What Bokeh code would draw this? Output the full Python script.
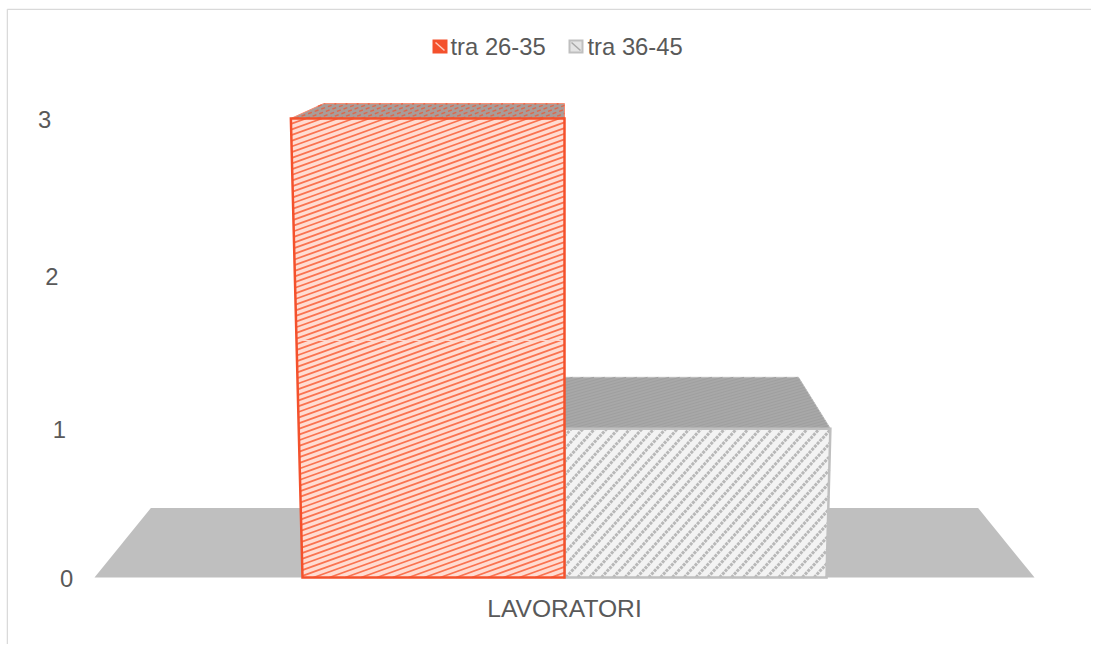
import numpy as np
from bokeh.plotting import figure
from bokeh.models import Range1d
from bokeh.core.properties import value
from bokeh.embed import file_html
from bokeh.resources import INLINE

category = ["LAVORATORI"]
series_names = ["tra 26-35", "tra 36-45"]
series_values = [3, 1]
tick_values = [0, 1, 2, 3]

RED, RED_FILL, GREY, GREY_FILL = "#f4512c", "#ffdcd2", "#bfbfbf", "#f3f3f3"
TEXT = "#595959"
FONT = value("Liberation Sans")
FONT_SIZE = "23.8px"

# page-pixel frame of the figure
LEFT, TOP, W, H = 6, 8, 1085, 636
X_UNIT, Y_UNIT, CX, Y0 = 262.0, 153.0, 564.0, 577.0


def dx(px):
    return 1 + (px - CX) / X_UNIT


def dy(py):
    return (Y0 - py) / Y_UNIT


def project(s, v, depth=0.0):
    """Oblique-perspective position (page px) of bar-slot s, value v, depth 0..1."""
    spread = 1 + 0.0148 * v
    back = 1 - 0.12 * depth
    x = CX + (s - 1) * X_UNIT * spread * back
    y = Y0 - Y_UNIT * (v - 0.0135 * v * (3 - v)) - depth * (69.5 - 18.2 * v)
    return x, y


def box_faces(s0, s1, v):
    front = [project(s0, 0), project(s1, 0), project(s1, v), project(s0, v)]
    top = [project(s0, v), project(s1, v), project(s1, v, 1), project(s0, v, 1)]
    return front, top


def clip_family(poly, slope, spacing, phase=0.0):
    """Segments of lines y = slope*x + c (px) clipped to a convex polygon (px)."""
    pts = np.array(poly)
    cs = pts[:, 1] - slope * pts[:, 0]
    xs_out, ys_out = [], []
    c = np.floor(cs.min() / spacing) * spacing + phase
    n = len(pts)
    while c <= cs.max():
        hits = []
        for i in range(n):
            a, b = pts[i], pts[(i + 1) % n]
            fa = a[1] - slope * a[0] - c
            fb = b[1] - slope * b[0] - c
            if fa == fb or fa * fb > 0:
                continue
            t = fa / (fa - fb)
            hits.append(a + t * (b - a))
        if len(hits) >= 2:
            hits = sorted(hits, key=lambda h: h[0])
            xs_out.append([dx(hits[0][0]), dx(hits[-1][0])])
            ys_out.append([dy(hits[0][1]), dy(hits[-1][1])])
        c += spacing
    return xs_out, ys_out


def fill(p, poly, color, line=None, lw=0):
    p.patch([dx(q[0]) for q in poly], [dy(q[1]) for q in poly], fill_color=color,
            line_color=line, line_width=lw, line_join="miter")


def outline(p, poly, color, lw):
    p.patch([dx(q[0]) for q in poly], [dy(q[1]) for q in poly], fill_color=None,
            line_color=color, line_width=lw, line_join="miter")


p = figure(width=W, height=H, output_backend="svg", toolbar_location=None,
           x_range=Range1d(dx(LEFT), dx(LEFT + W)), y_range=Range1d(dy(TOP + H), dy(TOP)),
           min_border=0, outline_line_color=None, background_fill_color="white",
           border_fill_color="white")
p.margin = (TOP, 0, 0, LEFT)
p.axis.visible = False
p.grid.visible = False

# chart border (top and left only are visible)
p.line([dx(LEFT + 0.7), dx(LEFT + W)], [dy(TOP + 0.7)] * 2, line_color="#d9d9d9", line_width=1.5)
p.line([dx(LEFT + 0.7)] * 2, [dy(TOP + 0.7), dy(TOP + H)], line_color="#d9d9d9", line_width=1.5)

# floor
floor = [project(1 - 1.794, 0), project(1 + 1.794, 0), project(1 + 1.794, 0, 1), project(1 - 1.794, 0, 1)]
fill(p, floor, GREY)

# second series (behind)
front, top = box_faces(1, 2, series_values[1])
fill(p, top, "#a8a8a8", GREY, 1)
xs, ys = clip_family(top, -0.28, 3.0)
p.multi_line(xs, ys, line_color="#9f9f9f", line_width=1)
fill(p, front, GREY_FILL)
xs, ys = clip_family(front, -1.1, 13.0, 3.0)
p.multi_line(xs, ys, line_color="#b8b8b8", line_width=3.0, line_dash="3 1")
outline(p, front, GREY, 2.5)

# first series (front)
front, top = box_faces(0, 1, series_values[0])
fill(p, top, "#a99c98", "#f98a70", 1)
xs, ys = clip_family(top, -0.36, 4.0)
p.multi_line(xs, ys, line_color=RED, line_width=1.4, line_alpha=0.7, line_dash="4 3")
fill(p, front, RED_FILL)
xs, ys = clip_family(front, -0.36, 5.7)
p.multi_line(xs, ys, line_color="#fa7350", line_width=1.8)
p.line([dx(project(0, 1.55)[0]), dx(project(1, 1.55)[0])], [dy(340), dy(340)],
       line_color="#ffd5ca", line_width=1)
outline(p, front, RED, 2.5)

# value labels follow the slanted left wall
tx = [project(-0.9, v)[0] for v in tick_values]
ty = [project(-0.9, v)[1] + 1 for v in tick_values]
p.text([dx(x) for x in tx], [dy(y) for y in ty], text=[str(v) for v in tick_values],
       text_font=FONT, text_font_size=FONT_SIZE, text_color=TEXT,
       text_align="center", text_baseline="middle")

# category label
p.text([dx(564)], [dy(608)], text=category, text_font=FONT, text_font_size="24.6px",
       text_color=TEXT, text_align="center", text_baseline="middle")

# legend
for name, sx, tx0, col, bg in [(series_names[0], 432, 450, RED, "#f4512c"),
                               (series_names[1], 568, 587, GREY, "#e4e4e4")]:
    sq = [(sx + 1, 40), (sx + 14, 40), (sx + 14, 52), (sx + 1, 52)]
    fill(p, sq, bg, col, 2)
    hatch = "#ffc9bb" if col == RED else "#a8a8a8"
    p.line([dx(sx + 3), dx(sx + 12)], [dy(42), dy(50)], line_color=hatch, line_width=1.5)
    p.text([dx(tx0)], [dy(46)], text=[name], text_font=FONT, text_font_size=FONT_SIZE,
           text_color=TEXT, text_align="left", text_baseline="middle")

open("out.html", "w").write(file_html(p, INLINE))
